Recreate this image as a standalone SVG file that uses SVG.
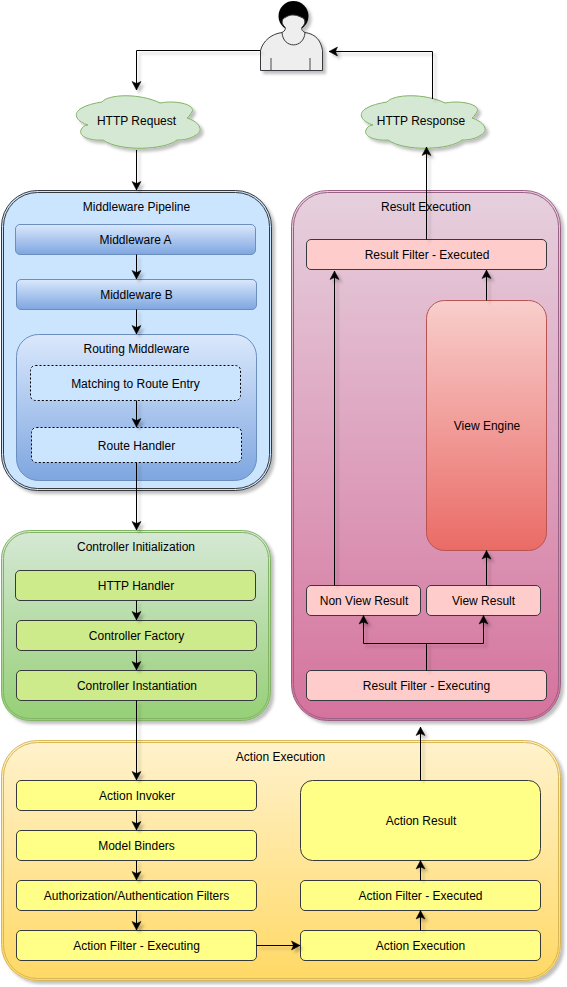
<svg xmlns="http://www.w3.org/2000/svg" width="567" height="987" viewBox="0 0 567 987">
<style>
text{font-family:"Liberation Sans",Arial,sans-serif;font-size:12px;fill:#000;text-anchor:middle}
.mw{fill:url(#gb);stroke:#6c8ebf}
.dot{fill:#cce5ff;stroke:#000;stroke-dasharray:2 2}
.g{fill:#cdeb8b;stroke:#36393d}
.y{fill:#ffff88;stroke:#36393d}
.p{fill:#ffcccc;stroke:#36393d}
.c{fill:#d5e8d4;stroke:#82b366;stroke-width:1}
.sh{filter:url(#s)}
#connectors path{fill:none;stroke:#000;stroke-width:1;marker-end:url(#a)}
</style>
<defs>
<linearGradient id="gb" x1="0" y1="0" x2="0" y2="1"><stop offset="0" stop-color="#dae8fc"/><stop offset="1" stop-color="#7ea6e0"/></linearGradient>
<linearGradient id="gg" x1="0" y1="0" x2="0" y2="1"><stop offset="0" stop-color="#d5e8d4"/><stop offset="1" stop-color="#97d077"/></linearGradient>
<linearGradient id="gy" x1="0" y1="0" x2="0" y2="1"><stop offset="0" stop-color="#fff2cc"/><stop offset="1" stop-color="#ffd966"/></linearGradient>
<linearGradient id="gp" x1="0" y1="0" x2="0" y2="1"><stop offset="0" stop-color="#e6d0de"/><stop offset="1" stop-color="#d5739d"/></linearGradient>
<linearGradient id="gr" x1="0" y1="0" x2="0" y2="1"><stop offset="0" stop-color="#f8cecc"/><stop offset="1" stop-color="#ea6b66"/></linearGradient>
<filter id="s" x="-20%" y="-20%" width="140%" height="140%"><feDropShadow dx="3" dy="3" stdDeviation="1.7" flood-color="#000" flood-opacity=".25"/></filter>
<marker id="a" markerUnits="userSpaceOnUse" markerWidth="12" markerHeight="12" refX="9" refY="6" orient="auto"><path d="M9 6 L0.500 1.500 L2.500 6 L0.500 10.500Z" fill="#000" stroke="#000" stroke-width=".5"/></marker>
<path id="cloud" d="M102 102C108 94 140 93 160 103C175 100 196 104 192 112C190 114 190 116 187 118C200 122 204 131 196 135C190 139 184 140 177 140C165 150 120 152 103 140C92 141 78 137 81 130C82 127 85 125 88 125C78 122 72 115 80 109C86 105 95 103 102 102Z"/>
</defs>

<g id="user" class="sh">
<circle cx="293.500" cy="16" r="15" fill="#000"/>
<path d="M260.500 50.500C263 41 271 34 282 32.500C285 31 286 29 285 27C282 25 281 20 284 18C287 17 288 15 293 15C298 15 300 17 303 18C306 20 305 25 302 27C301 29 302 31 305 32.500C316 34 321 41 322.500 50.500L322.500 70.500L260.500 70.500Z" fill="#eeeeee" stroke="#36393d"/>
<path d="M282 32.500C283 49 304 49 305 32.500" fill="none" stroke="#36393d"/>
<path d="M271 58V70M310 58V70" fill="none" stroke="#808080" stroke-width="1.500"/>
</g>

<g id="http-request">
<use href="#cloud" class="c sh"/>
<text x="136.500" y="124.500">HTTP Request</text>
</g>
<g id="http-response">
<use href="#cloud" x="285" class="c sh"/>
<text x="421" y="124.500">HTTP Response</text>
</g>

<g id="middleware-pipeline">
<rect class="sh" x="1.500" y="190.500" width="270" height="300" rx="36" fill="#cce5ff" stroke="#36393d"/>
<rect x="3.500" y="192.500" width="266" height="296" rx="34" fill="#cce5ff" stroke="#36393d"/>
<text x="136.500" y="211">Middleware Pipeline</text>
</g>
<g id="middleware-a"><rect class="mw" x="15.500" y="224.500" width="240" height="30" rx="4.500"/><text x="135.500" y="244">Middleware A</text></g>
<g id="middleware-b"><rect class="mw" x="16.500" y="279.500" width="240" height="30" rx="4.500"/><text x="136.500" y="299">Middleware B</text></g>
<g id="routing-middleware"><rect class="mw" x="16.500" y="334.500" width="240" height="146" rx="22"/><text x="136.500" y="353">Routing Middleware</text></g>
<g id="matching"><rect class="dot" x="30.500" y="365.500" width="210" height="35" rx="5"/><text x="135.500" y="388">Matching to Route Entry</text></g>
<g id="route-handler"><rect class="dot" x="31.500" y="427.500" width="210" height="35" rx="5"/><text x="136.500" y="450">Route Handler</text></g>

<g id="controller-initialization">
<rect class="sh" x="1.500" y="530.500" width="269" height="190" rx="28" fill="url(#gg)" stroke="#82b366"/>
<rect x="3.500" y="532.500" width="265" height="186" rx="26" fill="url(#gg)" stroke="#82b366"/>
<text x="136" y="551">Controller Initialization</text>
</g>
<g id="http-handler"><rect class="g" x="15.500" y="570.500" width="240" height="30" rx="4.500"/><text x="136" y="590">HTTP Handler</text></g>
<g id="controller-factory"><rect class="g" x="16.500" y="620.500" width="240" height="30" rx="4.500"/><text x="136.500" y="640">Controller Factory</text></g>
<g id="controller-instantiation"><rect class="g" x="16.500" y="670.500" width="240" height="30" rx="4.500"/><text x="137" y="690">Controller Instantiation</text></g>

<g id="action-execution-group">
<rect class="sh" x="1.500" y="740.500" width="559" height="240" rx="36" fill="url(#gy)" stroke="#d6b656"/>
<rect x="3.500" y="742.500" width="555" height="236" rx="34" fill="url(#gy)" stroke="#d6b656"/>
<text x="280.500" y="761">Action Execution</text>
</g>
<g id="action-invoker"><rect class="y" x="16.500" y="780.500" width="240" height="30" rx="4.500"/><text x="137" y="800">Action Invoker</text></g>
<g id="model-binders"><rect class="y" x="16.500" y="830.500" width="240" height="30" rx="4.500"/><text x="136.500" y="850">Model Binders</text></g>
<g id="auth-filters"><rect class="y" x="16.500" y="880.500" width="240" height="30" rx="4.500"/><text x="136.500" y="900">Authorization/Authentication Filters</text></g>
<g id="action-filter-executing"><rect class="y" x="16.500" y="930.500" width="240" height="30" rx="4.500"/><text x="136.500" y="950">Action Filter - Executing</text></g>
<g id="action-result"><rect class="y" x="300.500" y="780.500" width="240" height="80" rx="12"/><text x="421" y="825">Action Result</text></g>
<g id="action-filter-executed"><rect class="y" x="300.500" y="880.500" width="240" height="30" rx="4.500"/><text x="420.500" y="900">Action Filter - Executed</text></g>
<g id="action-execution"><rect class="y" x="300.500" y="930.500" width="240" height="30" rx="4.500"/><text x="420.500" y="950">Action Execution</text></g>

<g id="result-execution-group">
<rect class="sh" x="291.500" y="190.500" width="269" height="530" rx="36" fill="url(#gp)" stroke="#996185"/>
<rect x="293.500" y="192.500" width="265" height="526" rx="34" fill="url(#gp)" stroke="#996185"/>
<text x="426" y="211">Result Execution</text>
</g>
<g id="result-filter-executed"><rect class="p" x="306.500" y="239.500" width="240" height="30" rx="4.500"/><text x="427" y="259">Result Filter - Executed</text></g>
<g id="view-engine"><rect x="426.500" y="300.500" width="120" height="250" rx="18" fill="url(#gr)" stroke="#b85450"/><text x="487" y="430">View Engine</text></g>
<g id="non-view-result"><rect class="p" x="306.500" y="585.500" width="114" height="30" rx="4.500"/><text x="364" y="605">Non View Result</text></g>
<g id="view-result"><rect class="p" x="426.500" y="585.500" width="114" height="30" rx="4.500"/><text x="483.500" y="605">View Result</text></g>
<g id="result-filter-executing"><rect class="p" x="306.500" y="670.500" width="240" height="30" rx="4.500"/><text x="426.500" y="690">Result Filter - Executing</text></g>

<g id="connectors" class="sh">
<path d="M260.500 50.500H136.500V90"/>
<path d="M136.500 150V190"/>
<path d="M432.500 99V51.500H329"/>
<path d="M426.500 239.500V147"/>
<path d="M136.500 254.500V279"/>
<path d="M136.500 309.500V334"/>
<path d="M136.500 400.500V427"/>
<path d="M136.500 462.500V530"/>
<path d="M136.500 600.500V620"/>
<path d="M136.500 650.500V670"/>
<path d="M136.500 700.500V780"/>
<path d="M136.500 810.500V830"/>
<path d="M136.500 860.500V880"/>
<path d="M136.500 910.500V930"/>
<path d="M256.500 945.500H300"/>
<path d="M420.500 930.500V910.500"/>
<path d="M420.500 880.500V860.500"/>
<path d="M420.500 780.500V727"/>
<path d="M426.500 670.500V643.500H363.500V615.500"/>
<path d="M426.500 643.500H483.500V615.500"/>
<path d="M334.500 585.500V271"/>
<path d="M486.500 585.500V550.500"/>
<path d="M486.500 300.500V270"/>
</g>
</svg>
